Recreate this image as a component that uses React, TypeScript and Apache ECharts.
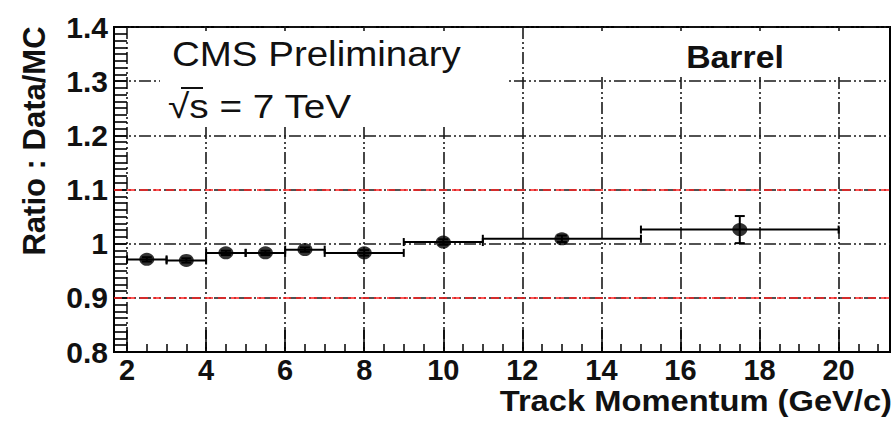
import React, { useEffect, useRef } from "react";
import * as echarts from "echarts";

// ---- data ----
const binCenters = [2.5, 3.5, 4.5, 5.5, 6.5, 8, 10, 13, 17.5];
const binLow = [2, 3, 4, 5, 6, 7, 9, 11, 15];
const binHigh = [3, 4, 5, 6, 7, 9, 11, 15, 20];
const ratioValues = [0.971, 0.969, 0.983, 0.983, 0.989, 0.983, 1.003, 1.009, 1.026];
const ratioErrors = [0.004, 0.004, 0.004, 0.004, 0.004, 0.005, 0.005, 0.006, 0.025];
const xMajorTicks = [2, 4, 6, 8, 10, 12, 14, 16, 18, 20];
const xMinorTicks = [2, 2.5, 3, 3.5, 4, 4.5, 5, 5.5, 6, 6.5, 7, 7.5, 8, 8.5, 9, 9.5, 10, 10.5, 11, 11.5, 12, 12.5, 13, 13.5, 14, 14.5, 15, 15.5, 16, 16.5, 17, 17.5, 18, 18.5, 19, 19.5, 20, 20.5, 21];
const redLines = [1.1, 0.9];
const xRange = [1.67, 21.3];
const yRange = [0.8, 1.4];

const FONT = "'Liberation Sans', Arial, Helvetica, sans-serif";
const TXT = "#111";
const gridDash = [12, 3, 2, 3, 2, 3];

export default function App() {
  const ref = useRef<HTMLDivElement>(null);
  useEffect(() => {
    if (!ref.current) return;
    const chart = echarts.init(ref.current, null, { renderer: "svg" });
    const errData = binCenters.map((x, i) => [binLow[i], binHigh[i], ratioValues[i], ratioErrors[i], x]);
    const option: any = {
      animation: false,
      backgroundColor: "#fff",
      grid: {
        left: 114, top: 27, right: 4, bottom: 73,
        show: true, borderColor: "#000", borderWidth: 2, backgroundColor: "transparent",
      },
      xAxis: [
        {
          type: "value", min: xRange[0], max: xRange[1], position: "bottom",
          axisLine: { show: true, onZero: false, lineStyle: { color: "#000", width: 2 } },
          axisTick: { show: true, inside: true, length: 22, customValues: xMajorTicks, lineStyle: { color: "#000", width: 1.5 } },
          axisLabel: {
            show: true, customValues: xMajorTicks, margin: 3,
            fontFamily: FONT, fontWeight: "bold", fontSize: 29, color: TXT,
          },
          splitLine: { show: true, lineStyle: { color: "#1a1a1a", width: 1.6, type: gridDash } },
        },
        {
          type: "value", min: xRange[0], max: xRange[1], position: "bottom",
          axisLine: { show: false, onZero: false },
          axisTick: { show: true, inside: true, length: 8, customValues: xMinorTicks, lineStyle: { color: "#000", width: 1.5 } },
          axisLabel: { show: false },
          splitLine: { show: false },
        },
      ],
      yAxis: {
        type: "value", min: yRange[0], max: yRange[1], interval: 0.1,
        axisLine: { show: true, onZero: false, lineStyle: { color: "#000", width: 2 } },
        axisTick: { show: true, inside: true, length: 13, lineStyle: { color: "#000", width: 1.6 } },
        minorTick: { show: true, splitNumber: 8, length: 13, lineStyle: { color: "#000", width: 1.6 } },
        axisLabel: {
          margin: 6, fontFamily: FONT, fontWeight: "bold", fontSize: 30, color: TXT,
          formatter: (v: number) => String(+v.toFixed(2)),
        },
        splitLine: { show: true, lineStyle: { color: "#1a1a1a", width: 1.6, type: gridDash } },
      },
      series: [
        {
          type: "custom",
          xAxisIndex: 0, yAxisIndex: 0,
          z: 2,
          encode: { x: [0, 1], y: 2 },
          data: errData,
          renderItem: (params: any, api: any) => {
            const lo = api.value(0), hi = api.value(1), y = api.value(2), e = api.value(3), xc = api.value(4);
            const pLo = api.coord([lo, y]);
            const pHi = api.coord([hi, y]);
            const pT = api.coord([xc, y + e]);
            const pB = api.coord([xc, y - e]);
            const cap = 4;
            const vcap = 5;
            const st = { stroke: "#000", lineWidth: 2 };
            return {
              type: "group",
              children: [
                { type: "line", shape: { x1: pLo[0], y1: pLo[1], x2: pHi[0], y2: pHi[1] }, style: st },
                { type: "line", shape: { x1: pLo[0], y1: pLo[1] - cap, x2: pLo[0], y2: pLo[1] + cap }, style: st },
                { type: "line", shape: { x1: pHi[0], y1: pHi[1] - cap, x2: pHi[0], y2: pHi[1] + cap }, style: st },
                { type: "line", shape: { x1: pT[0], y1: pT[1], x2: pB[0], y2: pB[1] }, style: st },
                { type: "line", shape: { x1: pT[0] - vcap, y1: pT[1], x2: pT[0] + vcap, y2: pT[1] }, style: st },
                { type: "line", shape: { x1: pB[0] - vcap, y1: pB[1], x2: pB[0] + vcap, y2: pB[1] }, style: st },
              ],
            };
          },
        },
        {
          type: "scatter",
          xAxisIndex: 0, yAxisIndex: 0,
          z: 3,
          symbol: "circle",
          symbolSize: [15, 13],
          itemStyle: { color: "#000" },
          data: binCenters.map((x, i) => [x, ratioValues[i]]),
          markLine: {
            silent: true,
            symbol: ["none", "none"],
            label: { show: false },
            lineStyle: { color: "#ff2020", type: [8, 5], width: 1.5 },
            emphasis: { disabled: true },
            data: redLines.map((v) => ({ yAxis: v })),
          },
        },
      ],
      graphic: [
        { type: "rect", z: 50, shape: { x: 160, y: 31, width: 347, height: 96 }, style: { fill: "#fff" } },
        { type: "rect", z: 50, shape: { x: 530, y: 31, width: 358, height: 46 }, style: { fill: "#fff" } },
        {
          type: "text", z: 60, x: 172, y: 54, scaleX: 1.1,
          style: { text: "CMS Preliminary", font: `35px ${FONT}`, fill: TXT, textAlign: "left", align: "left", textVerticalAlign: "middle", verticalAlign: "middle" },
        },
        {
          type: "text", z: 60, x: 168, y: 106, scaleX: 1.14,
          style: { text: "√s = 7 TeV", font: `34px ${FONT}`, fill: TXT, textAlign: "left", align: "left", textVerticalAlign: "middle", verticalAlign: "middle" },
        },
        { type: "line", z: 60, shape: { x1: 181, y1: 88, x2: 203, y2: 88 }, style: { stroke: TXT, lineWidth: 2 } },
        {
          type: "text", z: 60, x: 735, y: 57, scaleX: 1.09,
          style: { text: "Barrel", font: `bold 31px ${FONT}`, fill: TXT, textAlign: "center", align: "center", textVerticalAlign: "middle", verticalAlign: "middle" },
        },
        {
          type: "text", z: 60, x: 892, y: 401, scaleX: 1.09,
          style: { text: "Track Momentum (GeV/c)", font: `bold 30px ${FONT}`, fill: TXT, textAlign: "right", align: "right", textVerticalAlign: "middle", verticalAlign: "middle" },
        },
        {
          type: "text", z: 60, x: 34, y: 141, rotation: Math.PI / 2,
          style: { text: "Ratio : Data/MC", font: `bold 31px ${FONT}`, fill: TXT, textAlign: "center", align: "center", textVerticalAlign: "middle", verticalAlign: "middle" },
        },
      ],
    };
    chart.setOption(option);
    return () => chart.dispose();
  }, []);
  return (
    <div
      ref={ref}
      style={{ position: "fixed", left: 0, top: 0, width: 894, height: 425, background: "#fff" }}
    />
  );
}
